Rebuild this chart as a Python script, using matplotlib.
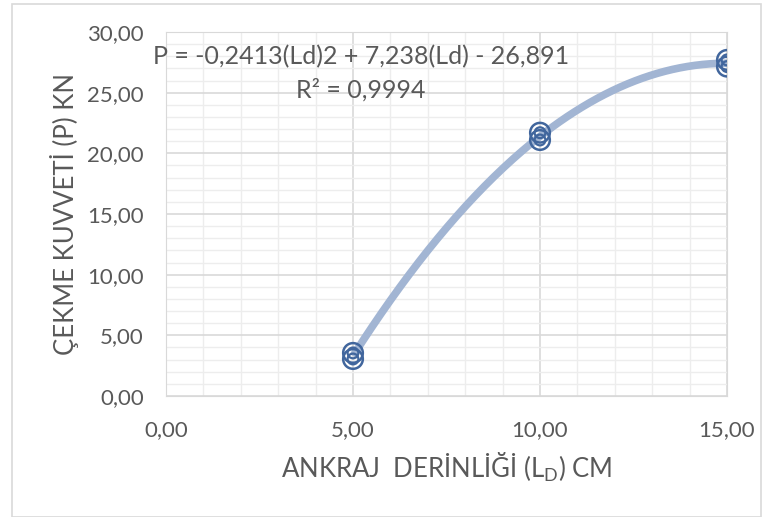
import numpy as np
import matplotlib.pyplot as plt
from matplotlib.ticker import MultipleLocator, FuncFormatter
from matplotlib.patches import Rectangle

# veri: ankraj derinliği (cm) ve çekme kuvveti (kN)
derinlik = [5, 5, 10, 10, 15, 15]
kuvvet = [3.05, 3.55, 21.1, 21.7, 27.15, 27.7]

xticks = [0, 5, 10, 15]
yticks = [0, 5, 10, 15, 20, 25, 30]

plt.rcParams['font.family'] = ['Lato', 'DejaVu Sans']
gri = '#595959'

fig = plt.figure(figsize=(7.73, 5.17), dpi=100)
ax = fig.add_axes([166/773, 1 - 396/517, (727-166)/773, (396-32)/517])

# çerçeve
fig.patches.append(Rectangle((12/773, 0.0), 1 - 24/773, 1 - 4/517, transform=fig.transFigure,
                             fill=False, edgecolor='#D9D9D9', lw=1.2))

# eğilim çizgisi (2. derece polinom)
katsayi = np.polyfit(derinlik, kuvvet, 2)
xx = np.linspace(5, 15, 200)
ax.plot(xx, np.polyval(katsayi, xx), color='#A2B5D3', lw=5.5, solid_capstyle='butt', zorder=3)

ax.scatter(derinlik, kuvvet, s=200, facecolors='none', edgecolors='#41669D', linewidths=1.8, zorder=4)
ax.scatter(derinlik, kuvvet, s=60, facecolors='none', edgecolors='#41669D', linewidths=1.6, zorder=4)

ax.set_xlim(0, 15)
ax.set_ylim(0, 30)
ax.set_xticks(xticks)
ax.set_yticks(yticks)
ax.xaxis.set_minor_locator(MultipleLocator(1))
ax.yaxis.set_minor_locator(MultipleLocator(1))
fmt = FuncFormatter(lambda v, p: f'{v:.2f}'.replace('.', ','))
ax.xaxis.set_major_formatter(fmt)
ax.yaxis.set_major_formatter(fmt)
ax.grid(which='major', color='#D9D9D9', lw=1.2)
ax.grid(which='minor', color='#EDEDED', lw=1.0)
ax.set_axisbelow(True)
for s in ax.spines.values():
    s.set_color('#D9D9D9')
ax.tick_params(which='both', length=0, labelsize=16, colors=gri)
ax.tick_params(axis='x', pad=17)
ax.tick_params(axis='y', pad=16)

ax.set_xlabel('ANKRAJ  DERİNLİĞİ (L$_\\mathregular{D}$) CM', fontsize=18.5, color=gri, labelpad=8)
ax.set_ylabel('ÇEKME KUVVETİ (P) KN', fontsize=18.5, color=gri, labelpad=6)

ax.text(0.348, 0.931, 'P = -0,2413(Ld)2 + 7,238(Ld) - 26,891', transform=ax.transAxes,
        ha='center', va='center', fontsize=18, color=gri)
ax.text(0.348, 0.84, 'R² = 0,9994', transform=ax.transAxes,
        ha='center', va='center', fontsize=18, color=gri)

fig.savefig('out.png', dpi=100)
